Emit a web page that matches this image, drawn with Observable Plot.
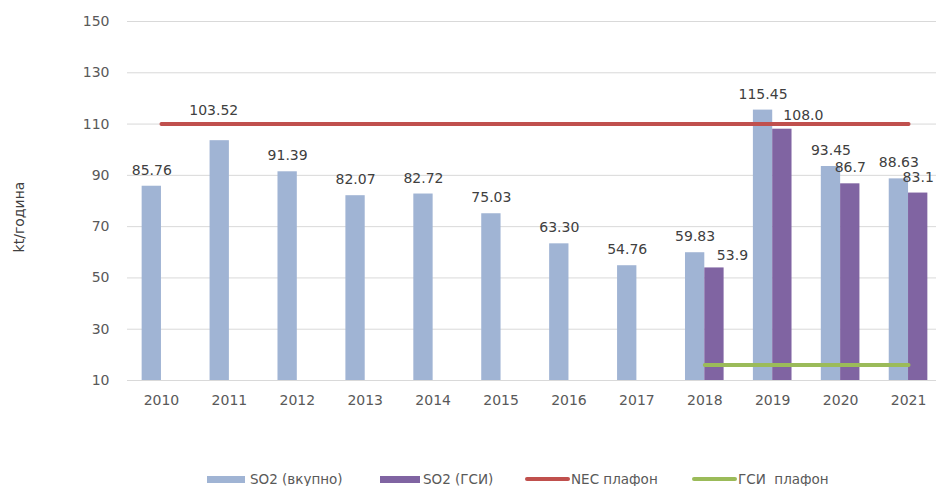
<!DOCTYPE html>
<html>
<head>
<meta charset="utf-8">
<script src="https://cdn.jsdelivr.net/npm/d3@7"></script>
<script src="https://cdn.jsdelivr.net/npm/@observablehq/plot@0.6"></script>
<style>
  html, body { margin: 0; padding: 0; background: #fff; }
  #wrap { position: relative; width: 936px; height: 486px; font-family: "DejaVu Sans", sans-serif; }
  #legend { position: absolute; left: 0; top: 469px; width: 936px; height: 20px; font-size: 13.5px; color: #595959; }
  .item { position: absolute; top: 0; display: flex; align-items: center; height: 20px; white-space: pre; }
  .sw { display: inline-block; }
</style>
</head>
<body>
<div id="wrap"></div>
<script>
const years = ["2010","2011","2012","2013","2014","2015","2016","2017","2018","2019","2020","2021"];
const totalSO2 = [85.76, 103.52, 91.39, 82.07, 82.72, 75.03, 63.30, 54.76, 59.83, 115.45, 93.45, 88.63];
const gsiSO2 = [null, null, null, null, null, null, null, null, 53.9, 108.0, 86.7, 83.1];
const necCeiling = [110, 110, 110, 110, 110, 110, 110, 110, 110, 110, 110, 110];
const gsiCeiling = [null, null, null, null, null, null, null, null, 16, 16, 16, 16];
const yTicks = [10, 30, 50, 70, 90, 110, 130, 150];
const seriesNames = ["SO2 (вкупно)", "SO2 (ГСИ)", "NEC плафон", "ГСИ  плафон"];
const colors = ["#a0b4d4", "#8064a2", "#c0504d", "#9bbb59"];

const totalData = years.map((year, i) => ({year, v: totalSO2[i], label: totalSO2[i].toFixed(2)}));
const gsiData = years.map((year, i) => ({year, v: gsiSO2[i], label: gsiSO2[i] == null ? null : gsiSO2[i].toFixed(1)})).filter(d => d.v != null);
const necData = years.map((year, i) => ({year, v: necCeiling[i]}));
const gsiCeilData = years.map((year, i) => ({year, v: gsiCeiling[i]})).filter(d => d.v != null);

const BW = 67.9, BAR = 19.3;
const outer = BW / 2 - BAR;
const half = BAR / 2;
const txt = {fontSize: 14, fill: "#404040", lineAnchor: "middle", textAnchor: "middle"};

const std = d => !["2011"].includes(d.year);
const stdG = d => !["2018", "2019"].includes(d.year);

const chart = Plot.plot({
  width: 936,
  height: 460,
  marginTop: 21,
  marginBottom: 80,
  marginLeft: 127,
  marginRight: 0,
  style: {fontFamily: "DejaVu Sans, sans-serif", fontSize: "14px", color: "#595959", background: "#fff"},
  x: {type: "band", domain: years, range: [127, 942], padding: 0, round: false, axis: null},
  y: {domain: [10, 150], axis: null},
  marks: [
    Plot.ruleY(yTicks, {stroke: "#d9d9d9", strokeWidth: 1}),
    Plot.axisY({ticks: yTicks, tickSize: 0, tickPadding: 18, label: null, fill: "#595959", fontSize: 14}),
    Plot.axisX({tickSize: 0, tickPadding: 15, label: null, fill: "#595959", fontSize: 14}),
    Plot.barY(totalData, {x: "year", y1: 10, y2: "v", fill: colors[0], insetLeft: outer, insetRight: BW / 2}),
    Plot.barY(gsiData, {x: "year", y1: 10, y2: "v", fill: colors[1], insetLeft: BW / 2, insetRight: outer}),
    Plot.lineY(necData, {x: "year", y: "v", stroke: colors[2], strokeWidth: 4, strokeLinecap: "round"}),
    Plot.lineY(gsiCeilData, {x: "year", y: "v", stroke: colors[3], strokeWidth: 4, strokeLinecap: "round"}),
    Plot.text(totalData.filter(std), {x: "year", y: "v", text: "label", dx: -half, dy: -16, ...txt}),
    Plot.text(totalData.filter(d => !std(d)), {x: "year", y: "v", text: "label", dx: -half - 6, dy: -30, ...txt}),
    Plot.text(gsiData.filter(stdG), {x: "year", y: "v", text: "label", dx: half, dy: -16, ...txt}),
    Plot.text(gsiData.filter(d => d.year === "2018"), {x: "year", y: "v", text: "label", dx: half + 18, dy: -12.5, ...txt}),
    Plot.text(gsiData.filter(d => d.year === "2019"), {x: "year", y: "v", text: "label", dx: half + 21, dy: -14, ...txt}),
    Plot.text(["kt/година"], {frameAnchor: "left", dx: -108, dy: 16, rotate: -90, fontSize: 14, fill: "#404040", textAnchor: "middle", lineAnchor: "middle"})
  ]
});

const wrap = document.getElementById("wrap");
wrap.appendChild(chart);

const legend = document.createElement("div");
legend.id = "legend";
const lefts = [207, 380, 525, 692];
const swW = [38, 40, 45, 45];
const gaps = [5, 3, 1, 1];
seriesNames.forEach((name, i) => {
  const it = document.createElement("div");
  it.className = "item";
  it.style.left = lefts[i] + "px";
  const sw = document.createElement("span");
  sw.className = "sw";
  sw.style.width = swW[i] + "px";
  sw.style.marginRight = gaps[i] + "px";
  sw.style.background = colors[i];
  if (i < 2) {
    sw.style.height = "7px";
  } else {
    sw.style.height = "4px"; sw.style.borderRadius = "2px";
  }
  it.appendChild(sw);
  const t = document.createElement("span");
  t.textContent = name;
  it.appendChild(t);
  legend.appendChild(it);
});
wrap.appendChild(legend);
</script>
</body>
</html>
